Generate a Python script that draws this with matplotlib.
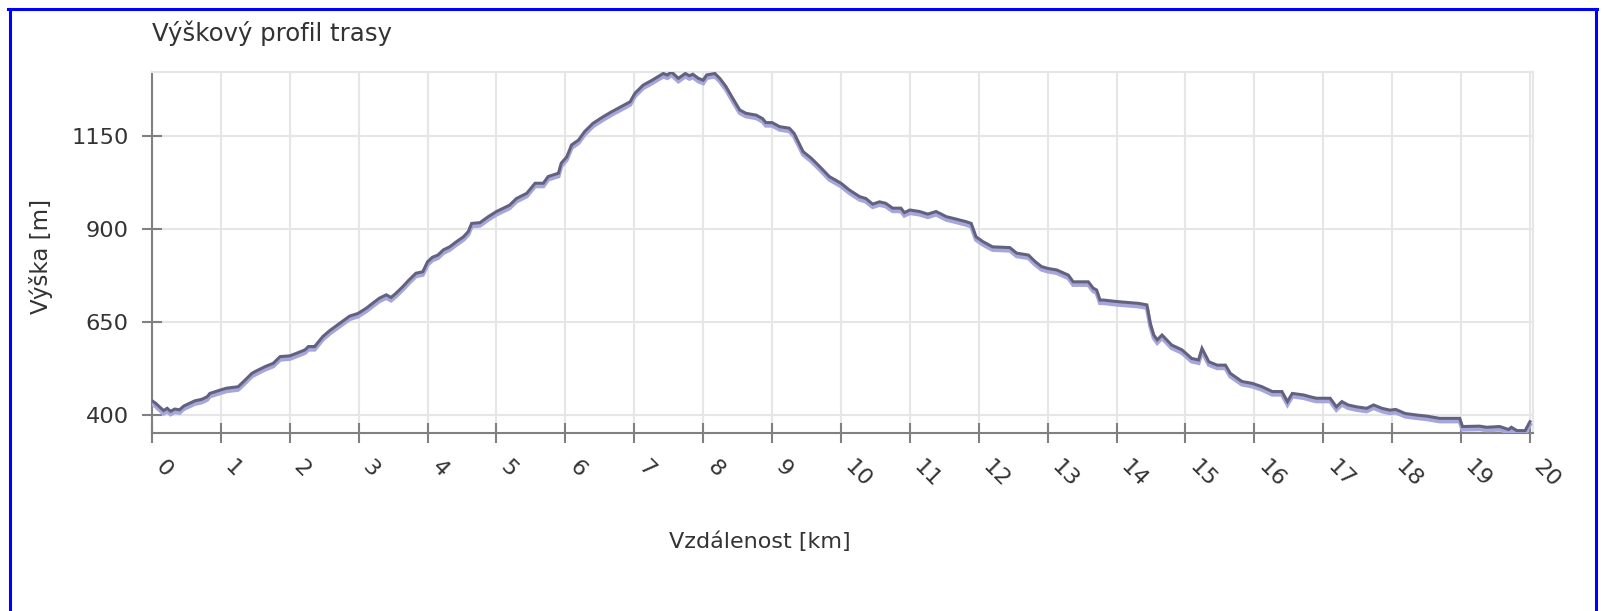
import matplotlib
matplotlib.use("Agg")
import matplotlib.pyplot as plt
from matplotlib.lines import Line2D
from matplotlib import transforms

# ---- data ----
distance_km = [
    0.00, 0.05, 0.12, 0.17, 0.22, 0.27, 0.33, 0.40, 0.46, 0.55, 0.62, 0.72, 0.80, 0.84, 0.99,
    1.08, 1.25, 1.33, 1.45, 1.52, 1.64, 1.76, 1.86, 2.00, 2.10, 2.22, 2.27, 2.36, 2.48, 2.58,
    2.72, 2.87, 2.99, 3.11, 3.20, 3.30, 3.40, 3.47, 3.54, 3.64, 3.73, 3.83, 3.93, 4.00, 4.07,
    4.15, 4.23, 4.32, 4.42, 4.52, 4.59, 4.64, 4.76, 4.88, 5.00, 5.19, 5.29, 5.44, 5.56, 5.68,
    5.75, 5.90, 5.94, 6.02, 6.09, 6.19, 6.28, 6.40, 6.55, 6.67, 6.81, 6.94, 7.01, 7.13, 7.25,
    7.42, 7.48, 7.54, 7.64, 7.74, 7.80, 7.85, 7.93, 8.00, 8.05, 8.17, 8.24, 8.33, 8.43, 8.53,
    8.62, 8.77, 8.86, 8.91, 9.00, 9.11, 9.25, 9.32, 9.45, 9.57, 9.69, 9.83, 10.00, 10.12, 10.27,
    10.36, 10.46, 10.56, 10.65, 10.75, 10.87, 10.92, 11.00, 11.14, 11.26, 11.38, 11.53, 11.62,
    11.81, 11.89, 11.96, 12.06, 12.20, 12.45, 12.55, 12.72, 12.82, 12.91, 13.00, 13.13, 13.30,
    13.37, 13.59, 13.66, 13.71, 13.76, 13.81, 14.00, 14.32, 14.44, 14.49, 14.54, 14.59, 14.66,
    14.80, 14.95, 15.09, 15.19, 15.24, 15.34, 15.46, 15.58, 15.65, 15.82, 15.97, 16.11, 16.26,
    16.40, 16.48, 16.55, 16.71, 16.81, 16.90, 17.10, 17.19, 17.27, 17.36, 17.48, 17.63, 17.73,
    17.85, 17.97, 18.05, 18.19, 18.35, 18.50, 18.69, 18.98, 19.02, 19.27, 19.37, 19.56, 19.69,
    19.73, 19.81, 19.93, 20.00,
]
elevation_m = [
    438, 432, 420, 412, 418, 410, 416, 414, 424, 432, 438, 442, 449, 458, 467,
    472, 476, 490, 512, 519, 530, 539, 557, 559, 566, 575, 584, 584, 611, 627,
    646, 666, 673, 687, 700, 714, 723, 716, 727, 745, 763, 781, 785, 812, 824,
    830, 844, 852, 866, 879, 893, 915, 917, 933, 947, 964, 982, 996, 1023, 1023,
    1041, 1050, 1077, 1094, 1126, 1139, 1162, 1184, 1202, 1215, 1229, 1242, 1265, 1287, 1299,
    1318, 1314, 1322, 1305, 1318, 1312, 1316, 1305, 1300, 1314, 1318, 1305, 1283, 1251, 1220,
    1211, 1206, 1197, 1186, 1186, 1175, 1171, 1157, 1108, 1090, 1068, 1041, 1023, 1005, 987,
    982, 967, 973, 969, 956, 956, 944, 951, 947, 940, 947, 933, 929,
    920, 915, 879, 866, 852, 850, 835, 830, 812, 799, 794, 790, 776,
    758, 758, 741, 736, 709, 709, 705, 700, 696, 646, 615, 602, 615,
    588, 575, 552, 548, 579, 543, 534, 534, 512, 490, 485, 476, 463,
    463, 436, 458, 454, 449, 445, 445, 422, 436, 427, 422, 418, 427,
    418, 413, 415, 404, 400, 397, 391, 391, 369, 370, 367, 369, 361,
    367, 358, 358, 382,
]
x_ticks = list(range(0, 21))
y_ticks = [400, 650, 900, 1150]

title_text = "Výškový profil trasy"
x_label = "Vzdálenost [km]"
y_label = "Výška [m]"

# ---- figure ----
W, H = 1603, 611
fig = plt.figure(figsize=(W / 100, H / 100), dpi=100)
fig.patch.set_facecolor("white")

def fx(px):
    return px / W

def fy(py):
    return 1 - py / H

ax = fig.add_axes([fx(152), fy(433), fx(1533) - fx(152), fy(72) - fy(433)])
ax.set_xlim(0, 20.044)
ax.set_ylim(351.6, 1322)

grid_c = "#e6e6e6"
axis_c = "#808080"
text_c = "#333333"

ax.set_xticks(x_ticks)
ax.set_yticks(y_ticks)
ax.grid(True, color=grid_c, linewidth=1.5, zorder=0)
ax.set_axisbelow(True)

for side in ("top", "right"):
    ax.spines[side].set_color(grid_c)
    ax.spines[side].set_linewidth(1.5)
for side in ("left", "bottom"):
    ax.spines[side].set_color(axis_c)
    ax.spines[side].set_linewidth(1.5)

ax.tick_params(axis="both", direction="inout", length=13.7, width=1.5,
               color=axis_c, labelsize=16.2, labelcolor=text_c)
ax.tick_params(axis="x", pad=10)
ax.tick_params(axis="y", pad=10)
for lab in ax.get_xticklabels():
    lab.set_rotation(-45)
    lab.set_ha("left")
    lab.set_va("top")

shadow_tr = transforms.offset_copy(ax.transData, fig=fig, x=0, y=-3, units="dots")
ax.plot(distance_km, elevation_m, color="#a6a6dc", linewidth=3.0,
        transform=shadow_tr, zorder=3, solid_joinstyle="miter")
ax.plot(distance_km, elevation_m, color="#62627e", linewidth=2.2, zorder=4,
        solid_joinstyle="miter")

fig.text(fx(152), fy(41.5), title_text, fontsize=17.6, color=text_c, ha="left", va="baseline")
fig.text(fx(760), fy(542), x_label, fontsize=16, color=text_c, ha="center", va="center")
fig.text(fx(41), fy(256), y_label, fontsize=16.5, color=text_c, ha="center", va="center",
         rotation=90)

# blue frame
blue = "#0000ff"
fig.add_artist(Line2D([fx(9.5), fx(9.5)], [0, fy(9)], color=blue, linewidth=2.2,
                      transform=fig.transFigure))
fig.add_artist(Line2D([fx(8), fx(1597)], [fy(9), fy(9)], color=blue, linewidth=2.2,
                      transform=fig.transFigure))
fig.add_artist(Line2D([fx(1595.5), fx(1595.5)], [0, fy(9)], color=blue, linewidth=2.2,
                      transform=fig.transFigure))

fig.savefig("out.png", dpi=100, facecolor="white")
